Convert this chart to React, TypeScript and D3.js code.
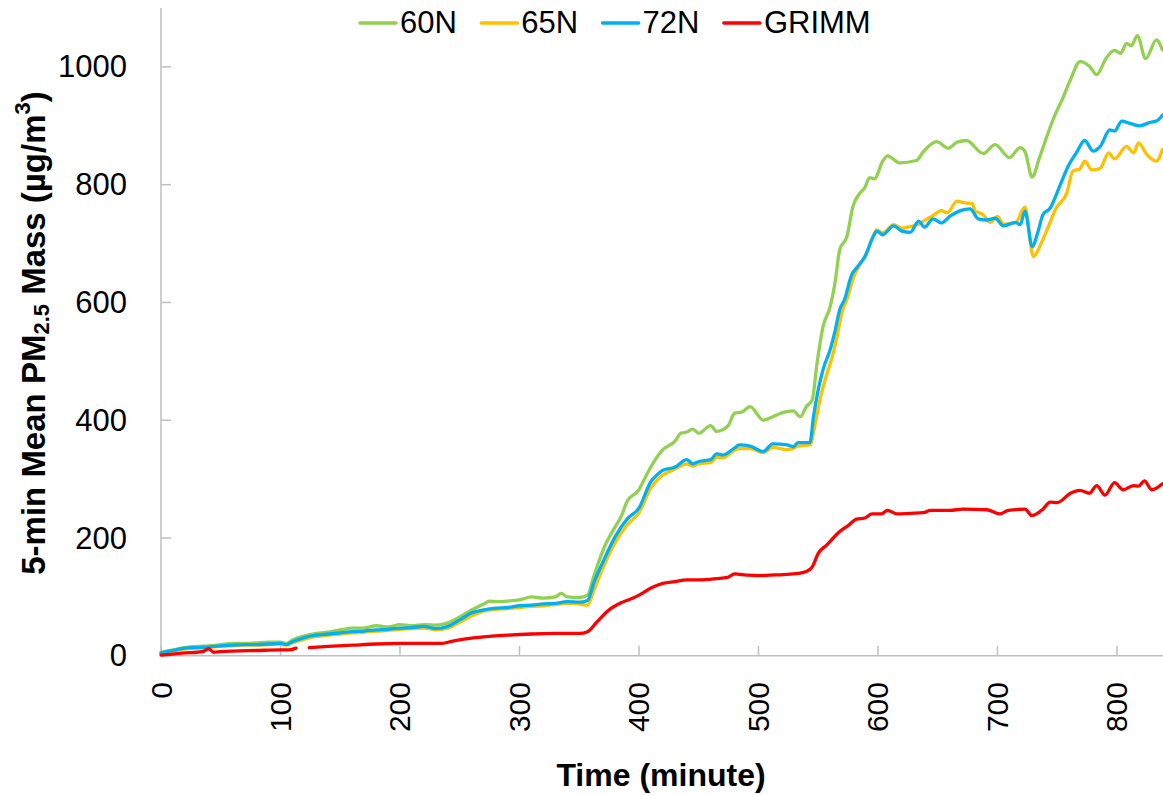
import React from "react";
import * as d3 from "d3";

// ---- data (minute, µg/m³) ----
const series60N: [number, number][] = [
  [0, 6], [10, 10], [20, 14], [30, 16], [40, 17], [50, 19], [60, 21], [70, 21], [80, 22], [90, 23],
  [100, 23], [105, 21], [110, 27], [120, 34], [130, 38], [140, 40], [150, 44], [160, 47], [170, 47],
  [180, 51], [190, 49], [200, 53], [210, 51], [220, 53], [230, 52], [240, 56], [250, 66], [260, 78],
  [270, 88], [275, 93], [280, 92], [290, 93], [300, 95], [310, 100], [320, 98], [330, 100], [335, 106],
  [340, 100], [350, 99], [357, 103], [362, 134], [370, 180], [380, 219], [385, 236], [390, 262],
  [400, 282], [405, 302], [410, 321], [420, 350], [430, 364], [435, 378], [440, 380], [445, 385],
  [450, 378], [460, 391], [465, 381], [470, 384], [475, 392], [480, 412], [486, 414], [493, 423],
  [504, 400], [512, 406], [520, 413], [529, 416], [535, 406], [540, 423], [545, 435], [549, 497],
  [554, 559], [560, 593], [564, 633], [568, 690], [574, 712], [579, 763], [585, 786], [589, 795],
  [593, 812], [597, 810], [604, 840], [608, 849], [618, 837], [632, 841], [638, 856], [649, 873],
  [659, 862], [666, 872], [674, 875], [688, 853], [698, 868], [710, 846], [719, 863], [723, 856],
  [729, 813], [735, 845], [741, 880], [748, 918], [754, 944], [761, 978], [769, 1009], [777, 1001],
  [783, 987], [791, 1015], [798, 1028], [803, 1023], [808, 1040], [812, 1036], [817, 1053],
  [824, 1014], [833, 1046], [838, 1029],
];

const series65N: [number, number][] = [
  [0, 4], [10, 8], [20, 12], [30, 13], [40, 14], [50, 16], [60, 17], [70, 18], [80, 18], [90, 19],
  [100, 20], [105, 18], [110, 22], [120, 28], [130, 33], [140, 35], [150, 37], [160, 39], [170, 40],
  [180, 42], [190, 43], [200, 45], [210, 46], [220, 47], [230, 44], [240, 47], [250, 57], [260, 68],
  [270, 76], [280, 79], [290, 80], [300, 82], [310, 84], [320, 85], [330, 87], [340, 89], [350, 88],
  [357, 86], [362, 110], [370, 150], [380, 192], [390, 222], [400, 243], [410, 285], [415, 298],
  [420, 307], [430, 317], [440, 326], [445, 322], [450, 326], [460, 328], [465, 337], [470, 336],
  [480, 349], [484, 352], [493, 352], [504, 345], [512, 354], [524, 350], [529, 352], [533, 356],
  [543, 358], [548, 400], [552, 440], [556, 470], [562, 510], [566, 545], [570, 585], [574, 605],
  [580, 645], [585, 665], [590, 680], [596, 712], [599, 723], [604, 718], [613, 732], [620, 726],
  [627, 729], [634, 733], [641, 742], [645, 746], [653, 756], [658, 752], [666, 772], [673, 769],
  [679, 768], [681, 756], [688, 749], [694, 736], [700, 746], [705, 733], [715, 735], [723, 762],
  [730, 678], [736, 698], [742, 726], [749, 760], [758, 786], [763, 823], [769, 827], [773, 840],
  [779, 825], [786, 828], [793, 854], [798, 844], [808, 865], [814, 854], [818, 871], [825, 851],
  [833, 840], [838, 860],
];

const series72N: [number, number][] = [
  [0, 5], [10, 9], [20, 13], [30, 14], [40, 15], [50, 17], [60, 18], [70, 19], [80, 19], [90, 20],
  [100, 21], [105, 19], [110, 24], [120, 31], [130, 35], [140, 37], [150, 39], [160, 41], [170, 42],
  [180, 44], [190, 45], [200, 47], [210, 48], [220, 50], [230, 46], [240, 50], [250, 61], [260, 73],
  [270, 78], [280, 81], [290, 82], [300, 85], [310, 86], [320, 88], [330, 89], [340, 92], [350, 91],
  [357, 94], [362, 123], [370, 160], [380, 202], [390, 232], [400, 251], [410, 296], [415, 307],
  [420, 315], [430, 320], [440, 333], [445, 326], [450, 330], [460, 333], [465, 343], [470, 341],
  [480, 353], [484, 358], [493, 356], [504, 347], [512, 360], [524, 358], [529, 355], [533, 362],
  [543, 362], [546, 406], [550, 452], [554, 486], [560, 520], [564, 551], [568, 588], [572, 605],
  [578, 647], [583, 661], [589, 678], [596, 712], [599, 721], [604, 715], [613, 730], [620, 721],
  [627, 719], [634, 738], [639, 728], [646, 742], [653, 735], [660, 746], [669, 756], [677, 759],
  [684, 742], [691, 740], [698, 743], [705, 730], [715, 736], [719, 732], [723, 755], [729, 695],
  [734, 721], [738, 749], [744, 760], [752, 797], [759, 831], [766, 854], [773, 875], [780, 857],
  [786, 865], [794, 893], [798, 891], [804, 908], [811, 904], [819, 900], [828, 906], [833, 908],
  [838, 918],
];

// null marks the gap in the GRIMM record
const seriesGRIMM: [number, number | null][] = [
  [0, 1], [10, 3], [20, 5], [30, 6], [36, 8], [40, 12], [44, 6], [50, 7], [60, 8], [80, 9],
  [100, 10], [107, 10], [113, 13], [118, null], [124, 14], [140, 16], [160, 18], [180, 20],
  [200, 21], [220, 21], [235, 21], [240, 23], [250, 27], [260, 30], [270, 32], [290, 35], [310, 37],
  [330, 38], [350, 38], [357, 41], [365, 58], [375, 78], [385, 90], [395, 98], [400, 103],
  [410, 115], [420, 123], [430, 126], [440, 129], [451, 129], [465, 131], [474, 133], [480, 139],
  [490, 137], [499, 136], [510, 137], [521, 138], [533, 140], [540, 143], [545, 151], [550, 174],
  [557, 188], [568, 211], [575, 221], [582, 232], [589, 234], [595, 241], [603, 241], [608, 247],
  [616, 241], [627, 242], [638, 243], [644, 247], [660, 247], [671, 249], [691, 248], [702, 241],
  [709, 247], [723, 249], [729, 238], [738, 249], [744, 261], [750, 260], [761, 276], [769, 281],
  [777, 276], [783, 289], [790, 273], [798, 294], [805, 282], [814, 289], [818, 288], [823, 297],
  [829, 282], [838, 292],
];

const seriesNames = ["60N", "65N", "72N", "GRIMM"];
const seriesColors = ["#92d050", "#ffc000", "#00b0f0", "#ff0000"];
const xTicks = [0, 100, 200, 300, 400, 500, 600, 700, 800];
const yTicks = [0, 200, 400, 600, 800, 1000];

const W = 1163;
const H = 795;
const FONT = "'Liberation Sans', Arial, sans-serif";

export default function App() {
  const x = d3.scaleLinear().domain([0, 838.5]).range([161, 1163]);
  const y = d3.scaleLinear().domain([0, 1100]).range([655.8, 8]);

  const line = d3
    .line<[number, number | null]>()
    .defined((d) => d[1] !== null)
    .x((d) => x(d[0]))
    .y((d) => y(d[1] as number))
    .curve(d3.curveMonotoneX);

  const allSeries = [series60N, series65N, series72N, seriesGRIMM] as [number, number | null][][];
  const axisColor = "#bfbfbf";

  return (
    <div style={{ position: "absolute", left: 0, top: 0, width: W, height: H, background: "#fff" }}>
      <svg width={W} height={H} style={{ display: "block" }} fontFamily={FONT}>
        {/* axes */}
        <line x1={x(0)} x2={W} y1={y(0)} y2={y(0)} stroke={axisColor} strokeWidth={1.5} />
        <line x1={x(0)} x2={x(0)} y1={y(0)} y2={y(1100)} stroke={axisColor} strokeWidth={1.5} />
        {xTicks.map((t) => (
          <g key={"xt" + t}>
            <line x1={x(t)} x2={x(t)} y1={y(0)} y2={y(0) - 10} stroke={axisColor} strokeWidth={1.5} />
            <text
              transform={`translate(${x(t)},${682}) rotate(-90)`}
              textAnchor="end"
              dominantBaseline="central"
              fontSize={30}
              fill="#000"
            >
              {t}
            </text>
          </g>
        ))}
        {yTicks.map((t) => (
          <g key={"yt" + t}>
            <line x1={x(0)} x2={x(0) + 10} y1={y(t)} y2={y(t)} stroke={axisColor} strokeWidth={1.5} />
            <text x={127} y={y(t)} textAnchor="end" dominantBaseline="central" fontSize={31} fill="#000">
              {t}
            </text>
          </g>
        ))}

        {/* series */}
        {allSeries.map((s, i) => (
          <path
            key={seriesNames[i]}
            d={line(s) || ""}
            fill="none"
            stroke={seriesColors[i]}
            strokeWidth={3.3}
            strokeLinejoin="round"
            strokeLinecap="round"
          />
        ))}

        {/* legend */}
        {seriesNames.map((n, i) => {
          const lx = 360 + i * 121.3;
          return (
            <g key={"lg" + n}>
              <line x1={lx} x2={lx + 36} y1={23} y2={23} stroke={seriesColors[i]} strokeWidth={3.5} strokeLinecap="round" />
              <text x={lx + 40} y={22} dominantBaseline="central" fontSize={31} fill="#000">
                {n}
              </text>
            </g>
          );
        })}

        {/* axis titles */}
        <text x={661} y={775} textAnchor="middle" dominantBaseline="central" fontSize={32} fontWeight="bold" fill="#000">
          Time (minute)
        </text>
        <text
          transform={`translate(33,333) rotate(-90)`}
          textAnchor="middle"
          dominantBaseline="central"
          fontSize={33}
          fontWeight="bold"
          fill="#000"
        >
          5-min Mean PM
          <tspan fontSize={22} dy={8}>2.5</tspan>
          <tspan dy={-8}> Mass (µg/m</tspan>
          <tspan fontSize={22} dy={-11}>3</tspan>
          <tspan dy={11}>)</tspan>
        </text>
      </svg>
    </div>
  );
}
